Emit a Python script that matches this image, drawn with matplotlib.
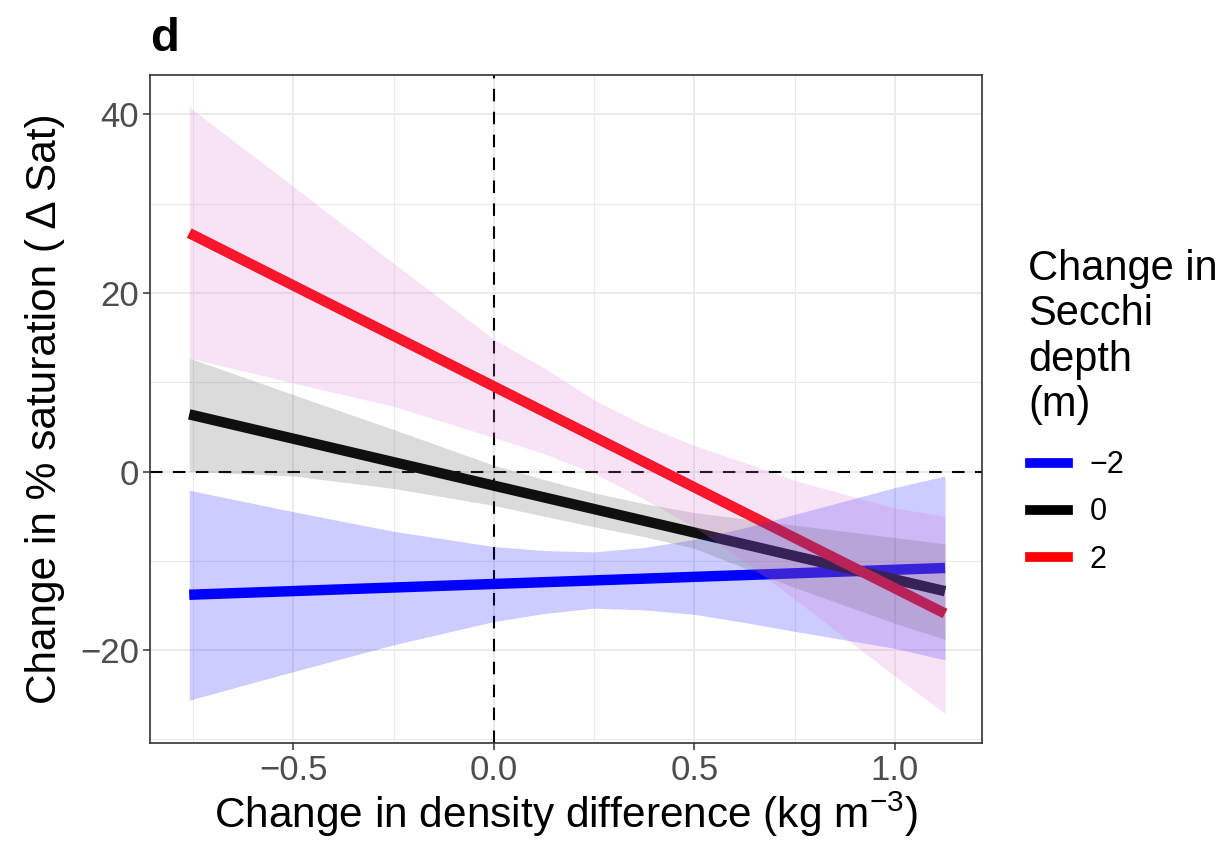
import numpy as np
import matplotlib
matplotlib.use('Agg')
import matplotlib.pyplot as plt
from matplotlib.lines import Line2D

plt.rcParams['font.family'] = ['Liberation Sans', 'DejaVu Sans']
plt.rcParams['mathtext.fontset'] = 'custom'
plt.rcParams['mathtext.rm'] = 'Liberation Sans'
plt.rcParams['mathtext.it'] = 'Liberation Sans:italic'

# secchi depth change levels
levels = ['\u22122', '0', '2']
line_colors = ['#0000ff', '#000000', '#ff0000']
band_colors = ['#0000ff', '#4d4d4d', '#da70d6']

# fitted lines (end points)
line_x = [-0.76, 1.125]
blue_line = [-13.8, -10.8]
black_line = [6.4, -13.4]
red_line = [26.7, -15.9]

# confidence ribbons
band_x = [-0.76, -0.5, -0.25, 0.0, 0.125, 0.25, 0.375, 0.5, 0.625, 0.75, 1.0, 1.125]
blue_hi = [-2.1, -4.5, -6.7, -8.4, -8.85, -9.0, -8.5, -7.6, -6.3, -4.8, -1.8, -0.5]
blue_lo = [-25.6, -22.4, -19.4, -16.8, -15.9, -15.3, -15.5, -16.0, -16.9, -17.9, -19.8, -21.1]
grey_hi = [12.7, 8.6, 4.7, 0.7, -0.9, -2.4, -3.6, -4.6, -5.3, -6.0, -7.4, -8.1]
grey_lo = [0.0, -0.5, -1.9, -3.8, -5.0, -6.2, -7.3, -8.6, -10.8, -13.0, -17.0, -18.8]
pink_hi = [40.8, 31.9, 23.3, 14.8, 11.6, 8.0, 5.2, 2.9, 1.0, -1.0, -4.1, -5.0]
pink_lo = [12.7, 9.9, 7.3, 3.8, 2.0, -0.2, -3.1, -6.2, -10.1, -14.3, -22.9, -27.1]

lines = [blue_line, black_line, red_line]
bands = [(blue_lo, blue_hi), (grey_lo, grey_hi), (pink_lo, pink_hi)]

fig = plt.figure(figsize=(12.26, 8.48), dpi=100)
ax = fig.add_axes([0.1223, 0.1238, 0.6786, 0.7878])

ax.axhline(0, color='black', lw=1.5, ls=(0, (6, 5)), zorder=1.5)
ax.axvline(0, color='black', lw=1.5, ls=(0, (6, 5)), zorder=1.5)

for ys, c in zip(lines, line_colors):
    ax.plot(line_x, ys, color=c, lw=7.5, solid_capstyle='butt', zorder=2)

for (lo, hi), c in zip(bands, band_colors):
    ax.fill_between(band_x, lo, hi, color=c, alpha=0.2, lw=0, zorder=3)

ax.set_xlim(-0.858, 1.217)
ax.set_ylim(-30.4, 44.4)
ax.set_xticks([-0.5, 0.0, 0.5, 1.0])
ax.set_yticks([-20, 0, 20, 40])
ax.set_xticks([-0.75, -0.25, 0.25, 0.75], minor=True)
ax.set_yticks([-30, -10, 10, 30], minor=True)
ax.grid(which='major', color='#ebebeb', lw=1.4, zorder=0)
ax.grid(which='minor', color='#ebebeb', lw=0.8, zorder=0)
ax.set_axisbelow(True)
ax.tick_params(which='major', length=5, width=1.1, color='#333333',
               labelsize=25, labelcolor='#4d4d4d', pad=3)
ax.tick_params(which='minor', length=0)
for s in ax.spines.values():
    s.set_color('#333333')
    s.set_linewidth(1.2)

ax.set_xlabel('Change in density difference (kg m$^{\\mathrm{-3}}$)', fontsize=30.5, labelpad=2)
ax.set_ylabel('Change in % saturation ( \u0394 Sat)', fontsize=30.5, labelpad=11)
ax.set_title('d', loc='left', fontsize=34, fontweight='bold', pad=17)

# legend title and keys
fig.text(1028 / 1226, 1 - 416 / 848, 'Change in\nSecchi\ndepth\n(m)', fontsize=30,
         ha='left', va='baseline', linespacing=1.17)
handles = [Line2D([], [], color=c, lw=7) for c in line_colors]
leg = ax.legend(handles, levels, loc='center left', bbox_to_anchor=(1030 / 1226, 1 - 512.5 / 848),
                bbox_transform=fig.transFigure, frameon=False,
                fontsize=22, handlelength=1.24, handletextpad=0.72,
                labelspacing=0.56, borderpad=0, borderaxespad=0)

fig.savefig('out.png', dpi=100)
